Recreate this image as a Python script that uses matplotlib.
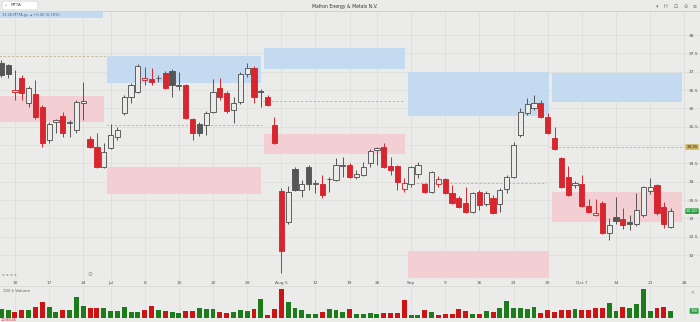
import matplotlib
matplotlib.use("Agg")
import matplotlib.pyplot as plt
import matplotlib.transforms as mtransforms
from matplotlib.lines import Line2D
from matplotlib.patches import Rectangle, FancyBboxPatch
import numpy as np

# ---------------- data ----------------
opens = [37.24, 37.18, 36.45, 36.83, 36.15, 36.39, 36.04, 35.14, 35.63, 35.79,
         35.60, 35.41, 36.16, 35.17, 34.95, 34.40, 34.92, 35.22, 35.87, 36.31,
         36.45, 36.77, 36.80, 36.84, 36.96, 37.02, 36.62, 36.64, 35.71, 35.57,
         35.55, 35.90, 36.56, 36.42, 35.96, 36.17, 36.94, 37.10, 36.46, 36.31,
         35.55, 33.75, 32.90, 34.35, 33.78, 34.40, 33.95, 33.94, 34.07, 34.05,
         34.44, 34.46, 34.13, 34.19, 34.51, 34.88, 34.95, 34.43, 34.43, 33.80,
         33.94, 34.21, 33.94, 33.72, 33.94, 34.08, 33.69, 33.56, 33.42, 33.18,
         33.72, 33.40, 33.56, 33.40, 33.80, 34.13, 35.28, 35.87, 36.01, 36.15,
         35.77, 35.19, 34.65, 34.13, 33.91, 33.94, 33.34, 33.10, 33.42, 32.60,
         33.04, 32.99, 32.90, 32.85, 33.10, 33.75, 33.91, 33.31, 32.77]
highs = [37.32, 37.22, 37.05, 36.91, 36.61, 36.77, 36.09, 35.63, 35.71, 35.90,
         35.68, 36.23, 36.72, 35.25, 35.33, 35.06, 35.57, 35.49, 36.37, 36.69,
         37.21, 37.13, 37.10, 36.91, 37.02, 37.07, 36.99, 36.66, 35.74, 35.63,
         35.93, 36.80, 36.83, 36.47, 36.31, 36.99, 37.24, 37.16, 36.53, 36.37,
         35.77, 33.83, 33.89, 34.40, 34.05, 34.46, 34.05, 34.19, 34.13, 34.65,
         34.68, 34.51, 34.32, 34.54, 34.89, 34.95, 35.06, 34.68, 34.46, 34.10,
         34.43, 34.54, 33.97, 34.29, 34.16, 34.10, 33.91, 33.61, 33.86, 33.72,
         33.78, 33.75, 33.64, 33.83, 34.19, 35.08, 36.01, 36.28, 36.37, 36.23,
         35.87, 35.49, 34.68, 34.43, 34.02, 34.19, 33.53, 33.53, 33.48, 33.01,
         33.59, 33.29, 33.10, 33.69, 33.89, 34.10, 33.94, 33.45, 33.29]
lows = [36.86, 36.83, 36.23, 36.23, 36.04, 35.71, 34.95, 35.06, 35.33, 35.22,
        35.22, 35.33, 35.68, 34.92, 34.38, 34.38, 34.89, 35.14, 35.82, 36.15,
        36.42, 36.64, 36.64, 36.72, 36.53, 36.31, 36.50, 35.71, 35.14, 35.25,
        35.28, 35.87, 36.23, 35.87, 35.60, 36.12, 36.86, 36.15, 36.04, 36.07,
        35.03, 31.51, 32.85, 33.75, 33.59, 33.78, 33.69, 33.56, 33.72, 34.02,
        34.13, 34.10, 34.07, 34.16, 34.40, 34.46, 34.38, 34.19, 33.78, 33.72,
        33.86, 34.10, 33.69, 33.69, 33.86, 33.67, 33.40, 33.29, 33.15, 33.15,
        33.23, 33.34, 33.12, 33.18, 33.69, 34.10, 35.22, 35.82, 35.96, 35.74,
        35.30, 34.87, 33.83, 33.61, 33.83, 33.31, 33.15, 33.07, 32.58, 32.41,
        32.85, 32.71, 32.69, 32.80, 33.04, 33.67, 33.10, 32.74, 32.74]
closes = [36.91, 36.94, 36.50, 36.42, 36.56, 35.77, 35.06, 35.57, 35.68, 35.33,
          35.63, 36.17, 36.20, 34.95, 34.40, 34.81, 35.28, 35.41, 36.31, 36.64,
          37.16, 36.83, 36.72, 36.82, 36.56, 36.64, 36.65, 35.74, 35.33, 35.34,
          35.87, 36.45, 36.31, 35.93, 36.15, 36.94, 37.10, 36.31, 36.45, 36.09,
          35.06, 32.11, 33.72, 33.78, 33.94, 33.95, 33.98, 33.64, 34.09, 34.46,
          34.47, 34.13, 34.21, 34.40, 34.84, 34.91, 34.40, 34.32, 33.99, 33.97,
          34.40, 34.46, 33.72, 34.27, 34.08, 33.69, 33.42, 33.31, 33.18, 33.69,
          33.37, 33.69, 33.15, 33.78, 34.13, 35.00, 35.90, 36.12, 36.15, 35.77,
          35.33, 34.89, 33.86, 33.64, 33.97, 33.34, 33.18, 33.15, 32.60, 32.82,
          32.93, 32.82, 32.86, 33.23, 33.86, 33.87, 33.15, 32.85, 33.20]
prev_close = 36.85
volumes = [90, 80, 60, 80, 80, 110, 160, 110, 60, 80,
           80, 210, 120, 100, 100, 100, 70, 70, 110, 60,
           60, 80, 120, 80, 70, 60, 50, 70, 70, 100,
           90, 90, 60, 50, 60, 80, 70, 90, 190, 30,
           90, 290, 160, 100, 80, 40, 40, 60, 90, 80,
           60, 90, 40, 40, 50, 40, 50, 50, 50, 180,
           30, 30, 80, 60, 30, 40, 40, 90, 70, 40,
           40, 70, 60, 100, 170, 100, 100, 90, 110, 50,
           80, 60, 80, 80, 90, 80, 80, 100, 100, 150,
           70, 110, 100, 140, 290, 70, 100, 110, 70]

tick_idx = [2, 7, 12, 16, 21, 26, 31, 36, 41, 46, 51, 55, 60, 65, 70, 75, 80, 85, 90, 95, 100]
tick_labels = ["10", "17", "24", "Jul", "8", "15", "22", "29", "Aug 5", "12", "19",
               "26", "Sep", "9", "16", "23", "30", "Oct 7", "14", "21", "28"]
price_ticks = [32.0, 32.5, 33.0, 33.5, 34.0, 34.5, 35.0, 35.5, 36.0, 36.5, 37.0, 37.5, 38.0]

# monthly zones
zone_start = [-0.5, 15.45, 38.45, 59.5, 80.6]
zone_end = [15.0, 38.0, 59.1, 80.2, 99.7]
support_lo = [35.63, 33.67, 34.76, 31.38, 32.90]
support_hi = [36.34, 34.40, 35.30, 32.11, 33.72]
resist_lo = [None, 36.69, 37.07, 35.79, 36.17]
resist_hi = [None, 37.43, 37.65, 36.99, 36.96]
pivot = [37.43, 35.55, 36.20, 33.97, 34.95]
pivot_start = [-0.5, 15.3, 38.3, 59.5, 80.3]
pivot_end = [15.2, 38.2, 59.1, 79.8, 99.9]

# ---------------- style ----------------
BG = '#ebebe9'
GRID = '#dcdcda'
RED = '#d7262d'
DARK = '#565656'
VGREEN = '#1c7c1c'
VRED = '#cc1414'
BLUE = '#c4daf1'
PINK = '#f3cfd3'
TXT = '#555555'

W, H = 700, 322
fig = plt.figure(figsize=(7.0, 3.22), dpi=100, facecolor=BG)

def fy(px):
    return 1 - px / H

ax = fig.add_axes([0, fy(279), 1, (279 - 12) / H], facecolor=BG)
ax2 = fig.add_axes([0, fy(318), 1, (318 - 287) / H], facecolor=BG, sharex=ax)

x = np.arange(len(closes))
o = np.array(opens); c = np.array(closes); hi = np.array(highs); lo = np.array(lows)
prev = np.concatenate([[prev_close], c[:-1]])
down = c < prev
rising = c >= o
col = np.where(down, RED, DARK)
face = np.where(rising, BG, col)

# zones
for i in range(len(zone_start)):
    xs = [zone_start[i], zone_end[i]]
    ax.fill_between(xs, support_lo[i], support_hi[i], color=PINK, lw=0, zorder=1)
    if resist_lo[i] is not None:
        ax.fill_between(xs, resist_lo[i], resist_hi[i], color=BLUE, lw=0, zorder=1)
for i in range(len(pivot)):
    ax.hlines(pivot[i], pivot_start[i], pivot_end[i], colors='#beb38e',
              linestyles=(0, (3, 2)), lw=0.6, zorder=2)

# candles
body_lo = np.minimum(o, c)
body_h = np.maximum(np.abs(c - o), 0.015)
ax.vlines(x, lo, hi, colors=col, lw=0.7, zorder=3)
ax.bar(x, body_h, bottom=body_lo, width=0.76, color=face, edgecolor=col,
       linewidth=0.65, zorder=4)

ax.set_xlim(-0.19, 102.3)
ax.set_ylim(31.35, 38.63)
ax.set_yticks(price_ticks)
# the tick label hidden under the last-level marker is left blank
ax.set_yticklabels(["" if abs(v - pivot[-1]) < 0.2 else f"{v:g}" for v in price_ticks])
ax.yaxis.tick_right()
ax.tick_params(axis='y', length=0, pad=-8, labelsize=3.2, labelcolor=TXT)
ax.set_xticks(tick_idx)
ax.set_xticklabels(tick_labels)
ax.tick_params(axis='x', length=0, pad=1.2, labelsize=3.2, labelcolor=TXT)
ax.grid(True, color=GRID, lw=0.5)
ax.set_axisbelow(True)
for s in ax.spines.values():
    s.set_visible(False)

trans = mtransforms.blended_transform_factory(ax.transAxes, ax.transData)
ax.text(0.997, pivot[-1], f"{pivot[-1]:.2f}", transform=trans, ha='right', va='center',
        fontsize=3.0, color='#333333', zorder=8,
        bbox=dict(boxstyle='round,pad=0.2', fc='#cdb15c', ec='none'))
ax.text(0.997, closes[-1], f"{closes[-1]:.2f}", transform=trans, ha='right', va='center',
        fontsize=3.0, color='white', zorder=8,
        bbox=dict(boxstyle='round,pad=0.2', fc='#2f9e44', ec='none'))

# volume
ax2.bar(x, volumes, width=0.72, color=np.where(down, VRED, VGREEN), zorder=3)
ax2.set_ylim(0, 310)
ax2.grid(True, axis='x', color=GRID, lw=0.5)
ax2.set_axisbelow(True)
ax2.tick_params(axis='both', length=0, labelbottom=False, labelleft=False)
for s in ax2.spines.values():
    s.set_visible(False)
trans2 = mtransforms.blended_transform_factory(ax2.transAxes, ax2.transData)
ax2.text(0.997, volumes[-1], f"{volumes[-1]}K", transform=trans2, ha='right', va='center',
         fontsize=2.8, color='white', zorder=8,
         bbox=dict(boxstyle='round,pad=0.2', fc='#2f9e44', ec='none'))
ax2.text(0.004, 0.93, "100 k Volume", transform=ax2.transAxes, fontsize=2.8,
         color='#4f6f4f', va='top', ha='left')
ax2.text(0.992, 0.9, "×", transform=ax2.transAxes, fontsize=3.5, color='#888888',
         va='top', ha='right')

# header / chrome
fig.add_artist(Line2D([0, 1], [fy(11), fy(11)], color='#cdcdcd', lw=0.6))
fig.add_artist(Line2D([0, 1], [fy(286), fy(286)], color='#d6d6d6', lw=0.5))
fig.add_artist(FancyBboxPatch((3 / W, fy(9.5)), 34 / W, 8 / H,
                              boxstyle='round,pad=0.001', transform=fig.transFigure,
                              fc='white', ec='#d0d0d0', lw=0.4))
fig.text(4.5 / W, fy(5.5), "‹", fontsize=4, color='#666666', va='center', ha='left')
fig.text(11 / W, fy(5.5), "MTTA", fontsize=3.0, color='#444444', va='center', ha='left')
fig.text(345 / W, fy(6.5), "Mafron Energy & Metals N.V.", fontsize=3.3,
         color='#333333', va='center', ha='center')
for px, s in zip([657, 665, 676, 686, 695], ["▾", "H", "⊡", "⊖", "≡"]):
    fig.text(px / W, fy(7), s, fontsize=3.6, color='#777777', va='center', ha='center')
fig.add_artist(Rectangle((0, fy(17.5)), 103 / W, 5.5 / H, transform=fig.transFigure,
                         fc=BLUE, ec='none'))
fig.text(2 / W, fy(14.7), "33.26 MTTA.gs  ▴ +0.06 (0.18%)", fontsize=2.6,
         color='#5a6a7a', va='center', ha='left')
fig.text(2 / W, fy(275), "⊕ ⊕ ⊕ ⊕", fontsize=2.4, color='#999999', va='center', ha='left')
fig.text(90 / W, fy(275), "⊙", fontsize=4.2, color='#8a8a8a', va='center', ha='center')
fig.text(1 / W, fy(320), "1036546", fontsize=2.6, color='#cc3333', va='center', ha='left')

fig.savefig("out.png", dpi=100, facecolor=BG)
